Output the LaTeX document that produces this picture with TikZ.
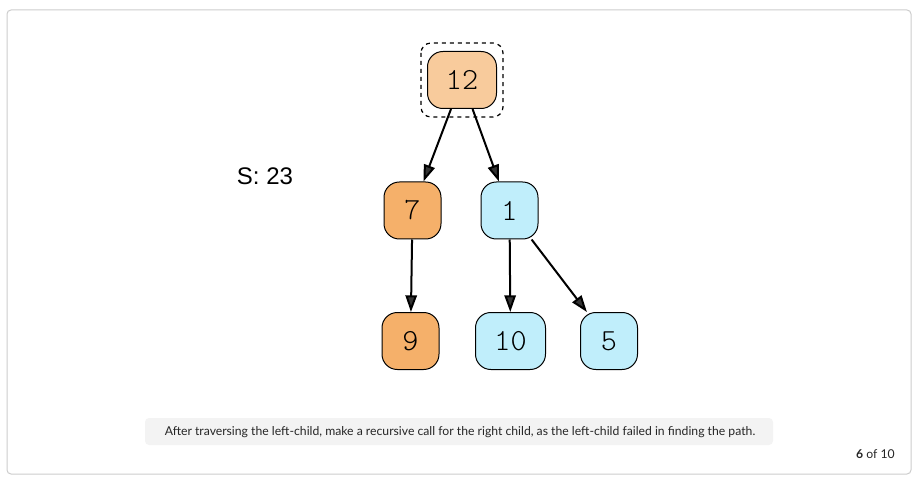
\documentclass[tikz,border=0pt]{standalone}
\usepackage{fontspec}
\setmainfont{Liberation Sans}
\newfontfamily\capfnt{Lato}
\newfontfamily\nodefnt{lmmonolt10-regular.otf}
\usetikzlibrary{arrows.meta}
\definecolor{framegray}{HTML}{CCCCCC}
\definecolor{capbg}{HTML}{F3F3F3}
\definecolor{peach}{HTML}{F8CB9C}
\definecolor{orangefill}{HTML}{F5B06A}
\definecolor{bluefill}{HTML}{C0EEFB}
\definecolor{arrowfill}{HTML}{333333}
\tikzset{
  treenode/.style={draw=black, line width=0.75pt, rounded corners=11.5pt,
    minimum width=42.75pt, minimum height=42.75pt, inner sep=0pt,
    font=\nodefnt\fontsize{23}{25}\selectfont},
  link/.style={line width=1.5pt, draw=black,
    -{Triangle[length=12.5pt,width=8.5pt,fill=arrowfill]}}
}
\begin{document}
\begin{tikzpicture}[x=0.75pt,y=-0.75pt]
\useasboundingbox (0,0) rectangle (918,481);
\draw[framegray, line width=0.75pt, rounded corners=3pt] (7,10) rectangle (911,474);
% selection box
\draw[dashed, line width=0.9pt, rounded corners=7.5pt] (421,43) rectangle (503,117);
% nodes
\node[treenode, fill=peach, minimum width=51.75pt] (n12) at (462,80) {12};
\node[treenode, fill=orangefill] (n7) at (412.5,210.5) {7};
\node[treenode, fill=bluefill] (n1) at (509.5,210.5) {1};
\node[treenode, fill=orangefill] (n9) at (410.5,341) {9};
\node[treenode, fill=bluefill, minimum width=52.5pt] (n10) at (510.5,341) {10};
\node[treenode, fill=bluefill] (n5) at (609,341) {5};
% edges
\draw[link] (n12) -- (n7);
\draw[link] (n12) -- (n1);
\draw[link] (n7) -- (n9);
\draw[link] (n1) -- (n10);
\draw[link] (n1) -- (n5);
% label
\node[font=\fontsize{18}{20}\selectfont, inner sep=0pt] (slabel) at (265,176) {S: 23};
% caption
\fill[capbg, rounded corners=3pt] (145,418) rectangle (773,445);
\node[font=\capfnt\fontsize{9.15}{11}\selectfont, text=black!85, inner sep=0pt] (caption) at (460,432)
  {After traversing the left-child, make a recursive call for the right child, as the left-child failed in finding the path.};
\node[font=\capfnt\fontsize{9.15}{11}\selectfont, text=black!85, inner sep=0pt, anchor=east] (counter) at (895,454)
  {\textbf{6} of 10};
\end{tikzpicture}
\end{document}
